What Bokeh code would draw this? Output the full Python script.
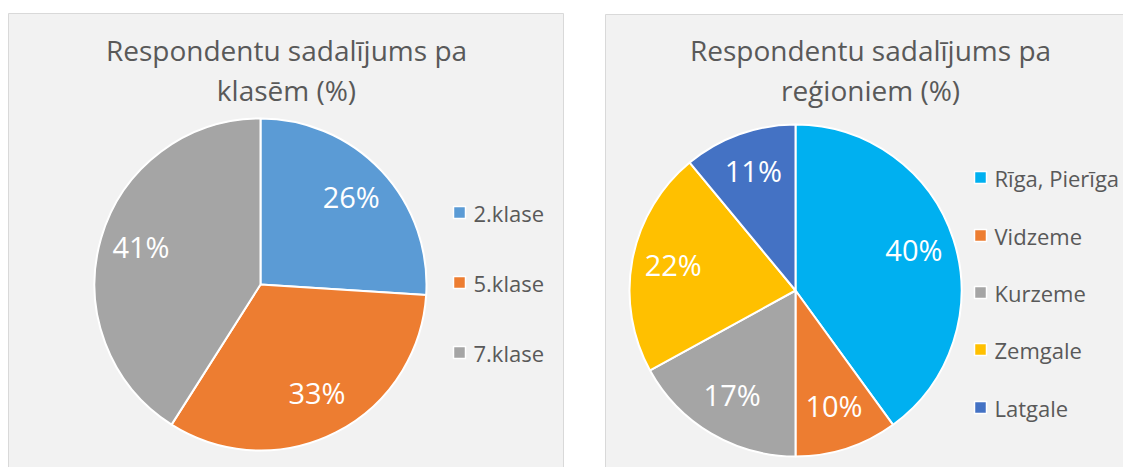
import math
from bokeh.plotting import figure
from bokeh.models import Range1d
from bokeh.core.properties import value
from bokeh.embed import file_html
from bokeh.resources import INLINE

# ---- data ----
class_labels = ["2.klase", "5.klase", "7.klase"]
class_values = [26, 33, 41]
class_colors = ["#5B9BD5", "#ED7D31", "#A5A5A5"]

region_labels = ["Rīga, Pierīga", "Vidzeme", "Kurzeme", "Zemgale", "Latgale"]
region_values = [40, 10, 17, 22, 11]
region_colors = ["#00B0F0", "#ED7D31", "#A5A5A5", "#FFC000", "#4472C4"]

title_left = ["Respondentu sadalījums pa", "klasēm (%)"]
title_right = ["Respondentu sadalījums pa", "reģioniem (%)"]

FONT = "Open Sans"
TXT = "#595959"
W, H = 1123, 467

p = figure(width=W, height=H, output_backend="svg", toolbar_location=None,
           x_range=Range1d(0, W), y_range=Range1d(0, H),
           min_border=0, outline_line_color=None)
p.axis.visible = False
p.grid.visible = False
p.background_fill_color = "white"
p.border_fill_color = "white"


def Y(sy):
    # screen y -> data y
    return H - sy


# panels
p.quad(left=[8, 605], right=[563, 1200], top=[Y(13), Y(14)], bottom=[Y(600), Y(600)],
       fill_color="#F2F2F2", line_color="#D9D9D9", line_width=1)


def pie(cx, cy, r, labels, values, colors, title, tx, lx, lys, lab_frac=0.75):
    total = float(sum(values))
    c0 = 0.0
    starts, ends, mx, my, txts = [], [], [], [], []
    for v in values:
        c1 = c0 + v / total
        starts.append(math.pi / 2 - 2 * math.pi * c1)
        ends.append(math.pi / 2 - 2 * math.pi * c0)
        mid = (c0 + c1) / 2
        a = 2 * math.pi * mid
        mx.append(cx + lab_frac * r * math.sin(a))
        my.append(Y(cy) + lab_frac * r * math.cos(a))
        txts.append(f"{v}%")
        c0 = c1
    p.wedge(x=[cx] * len(values), y=[Y(cy)] * len(values), radius=r,
            start_angle=starts, end_angle=ends, fill_color=colors,
            line_color="white", line_width=2)
    p.text(x=mx, y=my, text=txts, text_color="white", text_font=value(FONT),
           text_font_size="29px", text_align="center", text_baseline="middle",
           y_offset=-3)
    p.text(x=[tx, tx], y=[Y(49), Y(89)], text=title, text_color=TXT,
           text_font=value(FONT), text_font_size="28px", text_align="center",
           text_baseline="middle")
    p.scatter(x=[lx] * len(labels), y=[Y(v) for v in lys], marker="square",
              size=12, fill_color=colors, line_color="white", line_width=1.5)
    p.text(x=[lx + 14] * len(labels), y=[Y(v) for v in lys], text=labels,
           text_color=TXT, text_font=value(FONT), text_font_size="22px",
           text_align="left", text_baseline="middle")


pie(260, 284, 166, class_labels, class_values, class_colors, title_left, 286,
    459, [212, 282, 352])
pie(795, 290, 166, region_labels, region_values, region_colors, title_right, 870,
    980, [177, 235, 292, 349, 407])

open("out.html", "w").write(file_html(p, INLINE))
